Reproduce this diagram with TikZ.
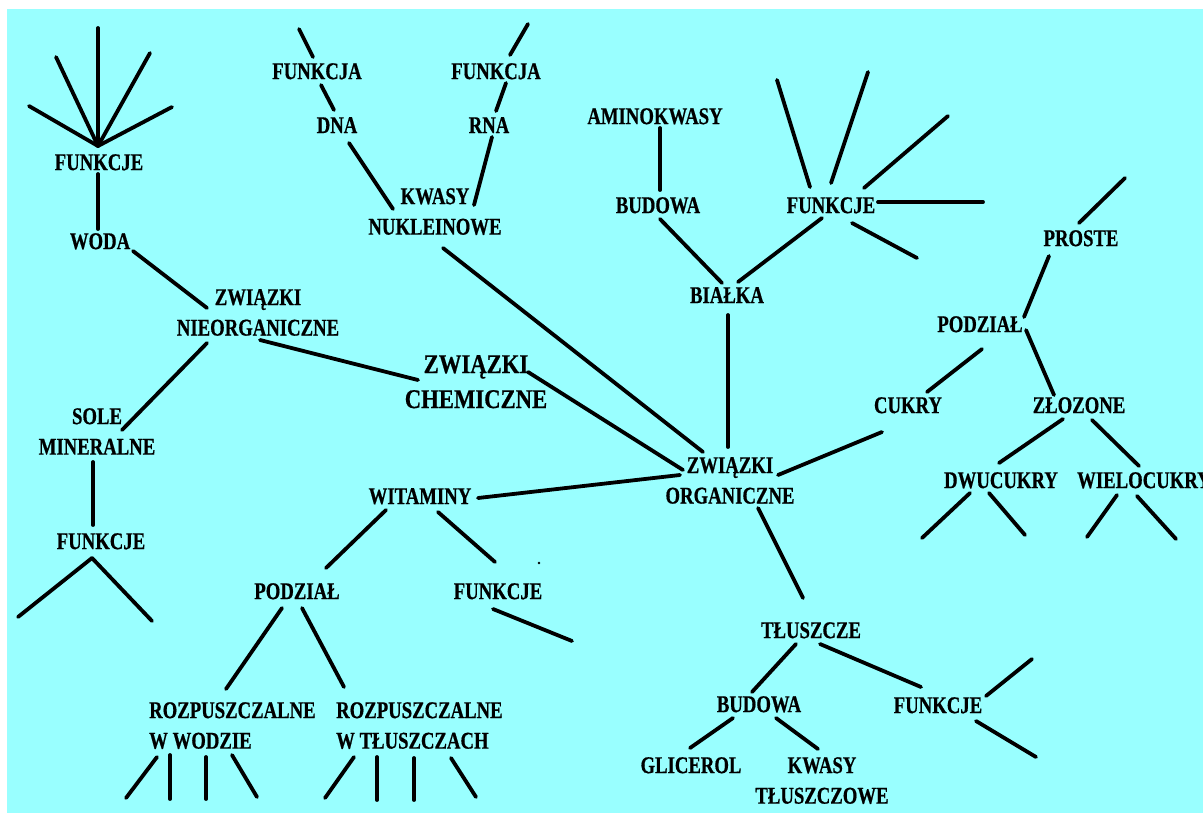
\documentclass[tikz,border=0pt]{standalone}
\usepackage{fontspec}
\newfontfamily\labfont{Liberation Serif}[FakeStretch=0.78,FakeBold=0.6]
\newfontfamily\bigfont{Liberation Serif}[FakeStretch=0.84,FakeBold=0.6]
\definecolor{bgcyan}{RGB}{153,255,255}
\begin{document}
\begin{tikzpicture}[x=1pt,y=-1pt,
  lab/.style={font=\labfont\bfseries\fontsize{24}{30.5}\selectfont, inner sep=0pt, anchor=north, align=center, text=black},
  labl/.style={lab, anchor=north west, align=left},
  biglab/.style={lab, font=\bigfont\bfseries\fontsize{27}{35}\selectfont},
  conn/.style={line width=3.8pt, line cap=round, black}]
\useasboundingbox (0,0) rectangle (1203,812);
\clip (0,0) rectangle (1203,812);
\fill[white] (0,0) rectangle (1203,812);
\fill[bgcyan] (7,9) rectangle (1204,813);

% ---------- nodes ----------
\node[lab] (f1) at (99,154) {FUNKCJE};
\node[lab] (woda) at (100,233) {WODA};
\node[lab] (nieorg) at (258,289) {ZWIĄZKI\\NIEORGANICZNE};
\node[lab] (sole) at (97,408) {SOLE\\MINERALNE};
\node[lab] (f2) at (101,533) {FUNKCJE};
\node[biglab] (chem) at (476,355) {ZWIĄZKI\\CHEMICZNE};
\node[lab] (org) at (730,457) {ZWIĄZKI\\ORGANICZNE};
\node[lab] (wit) at (420,488) {WITAMINY};
\node[lab] (pod1) at (297,583) {PODZIAŁ};
\node[lab] (f3) at (498,583) {FUNKCJE};
\node[labl] (rw) at (149,702) {ROZPUSZCZALNE\\W WODZIE};
\node[labl] (rt) at (336,702) {ROZPUSZCZALNE\\W TŁUSZCZACH};
\node[lab] (fja1) at (317,63) {FUNKCJA};
\node[lab] (dna) at (337,117) {DNA};
\node[lab] (fja2) at (496,63) {FUNKCJA};
\node[lab] (rna) at (489,117) {RNA};
\node[lab] (kwasy) at (435,188) {KWASY\\NUKLEINOWE};
\node[lab] (amino) at (655,108) {AMINOKWASY};
\node[lab] (bud1) at (658,197) {BUDOWA};
\node[lab] (f4) at (831,197) {FUNKCJE};
\node[lab] (bialka) at (727,287) {BIAŁKA};
\node[lab] (proste) at (1081,230) {PROSTE};
\node[lab] (pod2) at (980,316) {PODZIAŁ};
\node[lab] (cukry) at (908,397) {CUKRY};
\node[lab] (zloz) at (1079,397) {ZŁOZONE};
\node[lab] (dwu) at (1001,472) {DWUCUKRY};
\node[labl] (wiel) at (1077,472) {WIELOCUKRY};
\node[lab] (tl) at (811,622) {TŁUSZCZE};
\node[lab] (bud2) at (759,696) {BUDOWA};
\node[lab] (f5) at (938,697) {FUNKCJE};
\node[lab] (glic) at (691,757) {GLICEROL};
\node[lab] (kwt) at (822,757) {KWASY\\TŁUSZCZOWE};

% ---------- connectors ----------
% water cluster
\draw[conn] (98,146) -- (98,28);
\draw[conn] (98,146) -- (56,57);
\draw[conn] (98,146) -- (150,53);
\draw[conn] (98,146) -- (29,106);
\draw[conn] (98,146) -- (172,107);
\draw[conn] (98,174) -- (98,229);
\draw[conn] (133,251) -- (207,308);
\draw[conn] (207,343) -- (122,430);
\draw[conn] (93,462) -- (93,525);
\draw[conn] (92,558) -- (18,617);
\draw[conn] (92,558) -- (152,621);
% main links
\draw[conn] (260,340) -- (418,380);
\draw[conn] (528,372) -- (683,470);
\draw[conn] (443,248) -- (703,452);
\draw[conn] (728,315) -- (728,447);
\draw[conn] (778,475) -- (882,432);
\draw[conn] (478,498) -- (680,475);
\draw[conn] (758,508) -- (803,598);
% vitamins
\draw[conn] (386,510) -- (326,568);
\draw[conn] (438,512) -- (495,562);
\fill (539,563) circle (1.3);
\draw[conn] (493,609) -- (572,641);
\draw[conn] (282,608) -- (226,689);
\draw[conn] (302,608) -- (344,687);
\draw[conn] (157,757) -- (126,798);
\draw[conn] (170,755) -- (170,799);
\draw[conn] (206,757) -- (206,799);
\draw[conn] (232,755) -- (257,797);
\draw[conn] (354,757) -- (325,798);
\draw[conn] (377,757) -- (377,800);
\draw[conn] (414,758) -- (414,800);
\draw[conn] (451,758) -- (476,797);
% nucleic acids
\draw[conn] (299,29) -- (313,57);
\draw[conn] (321,85) -- (334,110);
\draw[conn] (349,143) -- (393,209);
\draw[conn] (528,24) -- (510,55);
\draw[conn] (506,83) -- (496,111);
\draw[conn] (492,137) -- (474,205);
% proteins
\draw[conn] (660,128) -- (660,190);
\draw[conn] (660,219) -- (722,283);
\draw[conn] (822,218) -- (738,282);
\draw[conn] (810,187) -- (777,80);
\draw[conn] (831,183) -- (868,72);
\draw[conn] (864,188) -- (948,116);
\draw[conn] (878,202) -- (983,202);
\draw[conn] (852,223) -- (917,258);
% sugars
\draw[conn] (1079,223) -- (1125,178);
\draw[conn] (1049,256) -- (1024,317);
\draw[conn] (982,349) -- (927,392);
\draw[conn] (1026,330) -- (1054,395);
\draw[conn] (1063,419) -- (999,463);
\draw[conn] (1092,420) -- (1139,466);
\draw[conn] (970,493) -- (922,538);
\draw[conn] (989,493) -- (1025,535);
\draw[conn] (1117,495) -- (1087,537);
\draw[conn] (1137,496) -- (1176,539);
% fats
\draw[conn] (796,644) -- (752,692);
\draw[conn] (820,644) -- (921,687);
\draw[conn] (986,696) -- (1032,659);
\draw[conn] (976,721) -- (1036,757);
\draw[conn] (733,718) -- (690,748);
\draw[conn] (776,718) -- (818,749);
\end{tikzpicture}
\end{document}
